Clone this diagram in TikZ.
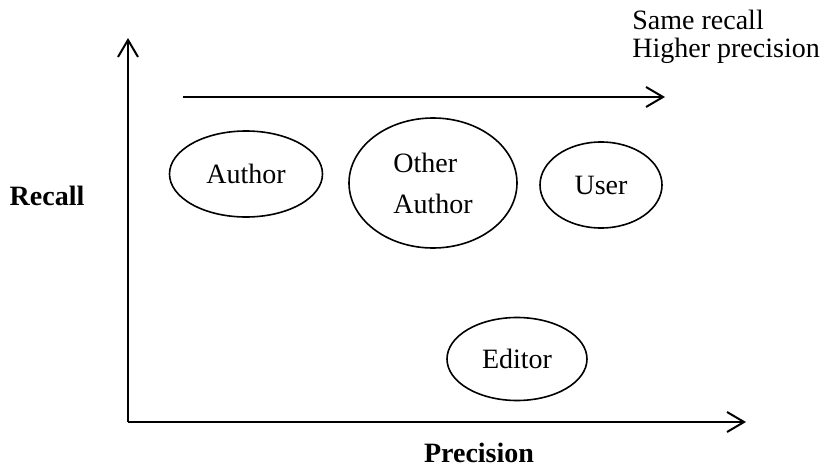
\documentclass[tikz,border=0pt]{standalone}
\usepackage{fontspec}
\setmainfont{Liberation Serif}
\usetikzlibrary{shapes.geometric, arrows.meta, positioning}

\begin{document}
\begin{tikzpicture}[x=0.5pt, y=-0.5pt,
    axis/.style={line width=1pt, -{Straight Barb[length=8.5pt, width=10pt, line width=1pt]}},
    role/.style={draw, ellipse, line width=0.8pt, inner sep=0pt, font={\fontsize{14}{20.5}\selectfont}},
    label/.style={inner sep=0pt, font={\fontsize{14}{14}\selectfont}}]
    \useasboundingbox (0,0) rectangle (821,466);

    % Axes
    \coordinate (origin) at (128,422);
    \coordinate (ytip) at (128,38);
    \coordinate (xtip) at (746,422);
    \draw[axis] (origin) -- (ytip);
    \draw[axis] (origin) -- (xtip);
    \node[label, font={\fontsize{14}{14}\selectfont\bfseries}] (recall) at (47,196) {Recall};
    \node[label, font={\fontsize{14}{14}\selectfont\bfseries}] (precision) at (479,453) {Precision};

    % Same recall, higher precision
    \coordinate (shiftstart) at (183,97);
    \coordinate (shiftend) at (665,97);
    \draw[axis] (shiftstart) -- (shiftend);
    \node[label, align=left, anchor=west] (note) at (632,37) {Same recall\\Higher precision};

    % Roles
    \node[role, minimum width=76.5pt, minimum height=43pt] (author) at (246,174) {Author};
    \node[role, minimum width=84pt, minimum height=65pt, align=left] (other) at (433,183) {Other\\Author};
    \node[role, minimum width=61pt, minimum height=43pt] (user) at (601,185) {User};
    \node[role, minimum width=70pt, minimum height=41.5pt] (editor) at (517,359) {Editor};
\end{tikzpicture}
\end{document}
